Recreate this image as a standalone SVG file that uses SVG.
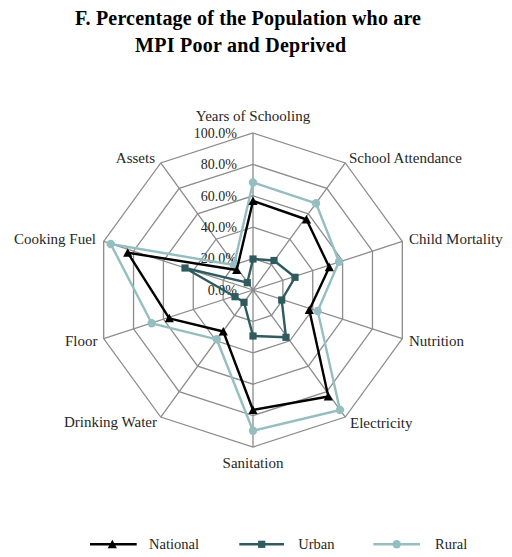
<svg xmlns="http://www.w3.org/2000/svg" width="512" height="557" viewBox="0 0 512 557">
<style>
.title{font-family:"Liberation Serif","Times New Roman",serif;font-weight:bold;font-size:20px;fill:#000}
.lbl{font-family:"Liberation Serif","Times New Roman",serif;font-size:15px;fill:#262626}
.tick{font-family:"Liberation Serif","Times New Roman",serif;font-size:14px;fill:#262626;text-anchor:end}
.leg{font-family:"Liberation Serif","Times New Roman",serif;font-size:14.5px;fill:#262626}
.grid{fill:none;stroke:#8c8c8c;stroke-width:1.3}
.nat{fill:none;stroke:#000;stroke-width:2.4;stroke-linejoin:round;marker-start:url(#mTri);marker-mid:url(#mTri)}
.urb{fill:none;stroke:#2f5b5e;stroke-width:2.4;stroke-linejoin:round;marker-start:url(#mSq);marker-mid:url(#mSq)}
.rur{fill:none;stroke:#95bec1;stroke-width:2.4;stroke-linejoin:round;marker-start:url(#mCir);marker-mid:url(#mCir)}
</style>
<defs>
<marker id="mTri" markerUnits="userSpaceOnUse" markerWidth="12" markerHeight="12" refX="6" refY="6" orient="0" overflow="visible">
<path d="M6,1.5 L10.6,10 L1.4,10 Z" fill="#000"/>
</marker>
<marker id="mSq" markerUnits="userSpaceOnUse" markerWidth="12" markerHeight="12" refX="6" refY="6" orient="0" overflow="visible">
<rect x="2.4" y="2.4" width="7.2" height="7.2" fill="#2f5b5e"/>
</marker>
<marker id="mCir" markerUnits="userSpaceOnUse" markerWidth="12" markerHeight="12" refX="6" refY="6" orient="0" overflow="visible">
<circle cx="6" cy="6" r="4.2" fill="#95bec1"/>
</marker>
</defs>

<g id="title">
<text class="title" x="75" y="25" textLength="346" lengthAdjust="spacing">F. Percentage of the Population who are</text>
<text class="title" x="135" y="51.5" textLength="211" lengthAdjust="spacing">MPI Poor and Deprived</text>
</g>

<g id="grid">
<polygon class="grid" points="253,133 345.28,162.99 402.32,241.49 402.32,338.51 345.28,417.01 253,447 160.72,417.01 103.68,338.51 103.68,241.49 160.72,162.99"/>
<polygon class="grid" points="253,164.4 326.83,188.39 372.46,251.19 372.46,328.81 326.83,391.61 253,415.6 179.17,391.61 133.54,328.81 133.54,251.19 179.17,188.39"/>
<polygon class="grid" points="253,195.8 308.37,213.79 342.59,260.89 342.59,319.11 308.37,366.21 253,384.2 197.63,366.21 163.41,319.11 163.41,260.89 197.63,213.79"/>
<polygon class="grid" points="253,227.2 289.91,239.19 312.73,270.59 312.73,309.41 289.91,340.81 253,352.8 216.09,340.81 193.27,309.41 193.27,270.59 216.09,239.19"/>
<polygon class="grid" points="253,258.6 271.46,264.6 282.86,280.3 282.86,299.7 271.46,315.4 253,321.4 234.54,315.4 223.14,299.7 223.14,280.3 234.54,264.6"/>
<path class="grid" d="M253,290 L253,133 M253,290 L345.28,162.99 M253,290 L402.32,241.49 M253,290 L402.32,338.51 M253,290 L345.28,417.01 M253,290 L253,447 M253,290 L160.72,417.01 M253,290 L103.68,338.51 M253,290 L103.68,241.49 M253,290 L160.72,162.99"/>
</g>

<g id="axis-ticks">
<text class="tick" x="237" y="137.5">100.0%</text>
<text class="tick" x="237" y="169">80.0%</text>
<text class="tick" x="237" y="200.5">60.0%</text>
<text class="tick" x="237" y="232">40.0%</text>
<text class="tick" x="237" y="263">20.0%</text>
<text class="tick" x="237" y="294.5">0.0%</text>
</g>

<g id="categories">
<text class="lbl" x="253" y="121" text-anchor="middle">Years of Schooling</text>
<text class="lbl" x="349" y="162.5">School Attendance</text>
<text class="lbl" x="409" y="244">Child Mortality</text>
<text class="lbl" x="409" y="345.5">Nutrition</text>
<text class="lbl" x="350" y="427.5">Electricity</text>
<text class="lbl" x="253" y="467.5" text-anchor="middle">Sanitation</text>
<text class="lbl" x="157" y="427" text-anchor="end">Drinking Water</text>
<text class="lbl" x="97.5" y="345.5" text-anchor="end">Floor</text>
<text class="lbl" x="96" y="244" text-anchor="end">Cooking Fuel</text>
<text class="lbl" x="155" y="162.5" text-anchor="end">Assets</text>
</g>

<g id="connectors">
<g id="series-rural">
<polygon class="rur" points="253,182.5 316,203.3 339,261.7 317.7,311 340,410 253,430.7 216.7,339.3 151.7,323.3 110.7,244 234,265"/>
</g>
<g id="series-urban">
<polygon class="urb" points="253,259 274,260.5 295,277.3 281.7,300 286,337.3 253,336 244,302.3 235,296.7 185,268 247.3,282.7"/>
</g>
<g id="series-national">
<polygon class="nat" points="253,201 306.5,219.5 329.3,267.3 309.3,310 328.3,396.5 253,410 223.3,331.5 169.3,318.3 127.7,252.7 236.7,270"/>
</g>
</g>

<g id="legend">
<g id="legend-national">
<path class="nat" d="M90,544.3 L112.3,544.3 L136.7,544.3" style="marker-start:none"/>
<text class="leg" x="149" y="549">National</text>
</g>
<g id="legend-urban">
<path class="urb" d="M239.3,544.3 L261.7,544.3 L284,544.3" style="marker-start:none"/>
<text class="leg" x="298.3" y="549">Urban</text>
</g>
<g id="legend-rural">
<path class="rur" d="M373.3,544.3 L396.7,544.3 L420,544.3" style="marker-start:none"/>
<text class="leg" x="435" y="549">Rural</text>
</g>
</g>
</svg>
